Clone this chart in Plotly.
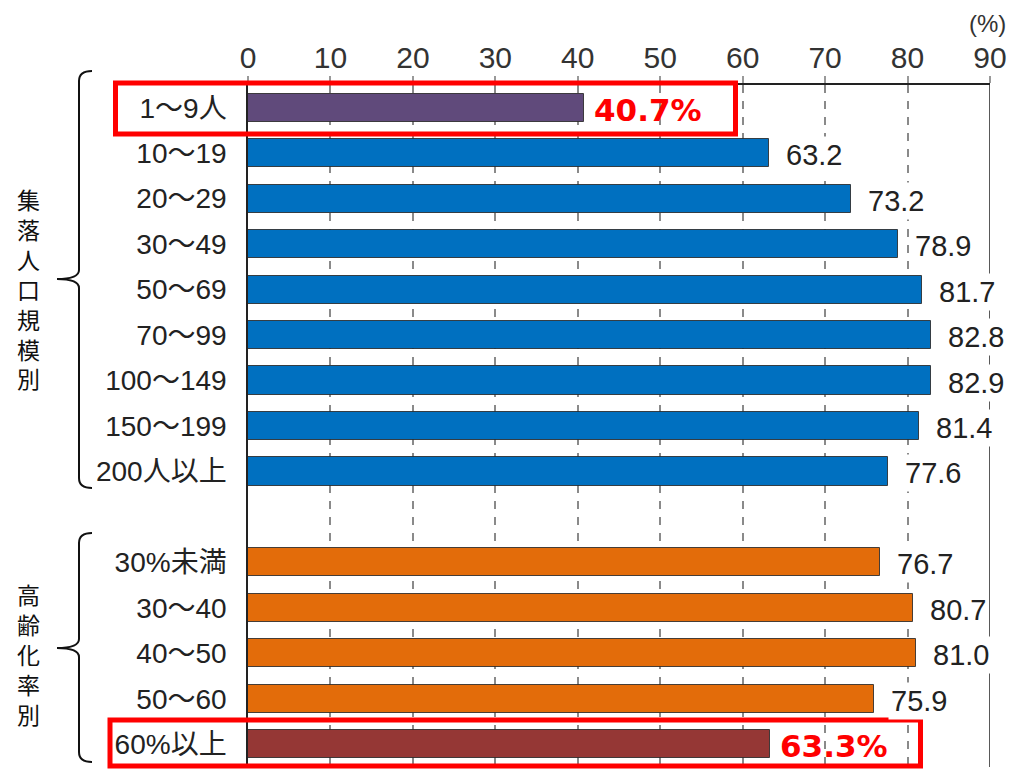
import plotly.graph_objects as go

# ---- data -------------------------------------------------------------
categories = ["1～9人", "10～19", "20～29", "30～49", "50～69", "70～99",
              "100～149", "150～199", "200人以上",
              "30%未満", "30～40", "40～50", "50～60", "60%以上"]
values = [40.7, 63.2, 73.2, 78.9, 81.7, 82.8, 82.9, 81.4, 77.6,
          76.7, 80.7, 81.0, 75.9, 63.3]
group_names = ["集落人口規模別", "高齢化率別"]
group_sizes = [9, 5]
highlighted = [0, 13]
x_ticks = [0, 10, 20, 30, 40, 50, 60, 70, 80, 90]

# ---- styling ----------------------------------------------------------
COL_GROUP = ["#0070c0", "#e36c0a"]
COL_HILITE = {0: "#604a7b", 13: "#953735"}
FONT_LATIN = "Liberation Sans, Arial, Noto Sans CJK JP"
W, H = 1009, 769
L, R, T, B = 248, 990, 85, 767          # plot area in pixels

# one blank slot between the two groups
slots, colors = [], []
idx = 0
for g, n in enumerate(group_sizes):
    for _ in range(n):
        slots.append(idx + g)
        colors.append(COL_HILITE.get(idx, COL_GROUP[g]))
        idx += 1
n_slots = slots[-1] + 1


def px_x(x):
    return (x - L) / (R - L)


def px_y(y):
    return (B - y) / (B - T)


fig = go.Figure()
fig.add_trace(go.Bar(
    x=values, y=slots, orientation="h", width=0.62,
    marker=dict(color=colors, line=dict(color="rgba(40,40,40,0.85)", width=1)),
    hoverinfo="skip", showlegend=False,
))

annotations = []
# value labels
for i, (v, s) in enumerate(zip(values, slots)):
    if i in highlighted:
        annotations.append(dict(
            x=v, y=s, xref="x", yref="y", text=f"{v:.1f}%", showarrow=False,
            xanchor="left", yanchor="middle", xshift=8, yshift=-2,
            font=dict(family="DejaVu Sans, Verdana", size=31, color="#ff0000", weight="bold"),
        ))
    else:
        annotations.append(dict(
            x=v, y=s, xref="x", yref="y", text=f"{v:.1f}", showarrow=False,
            xanchor="left", yanchor="middle", xshift=14, yshift=-2,
            bgcolor="white", borderpad=2,
            font=dict(family=FONT_LATIN, size=29, color="#222"),
        ))

annotations.append(dict(
    x=px_x(987), y=px_y(23), xref="paper", yref="paper", text="(%)",
    showarrow=False, xanchor="center", yanchor="middle",
    font=dict(family=FONT_LATIN, size=24, color="#333"),
))

# vertical group titles, one character per line
title_centres = [288, 654]
for name, yc in zip(group_names, title_centres):
    annotations.append(dict(
        x=px_x(28), y=px_y(yc), xref="paper", yref="paper",
        text="<br>".join(name), showarrow=False, xanchor="center", yanchor="middle",
        align="center",
        font=dict(family="Noto Sans CJK JP", size=23, color="#111"),
    ))

shapes = []
# right frame line
shapes.append(dict(type="line", xref="x", yref="paper", x0=90, x1=90, y0=0, y1=1,
                   line=dict(color="#222", width=1.5), layer="below"))


def brace(top, mid, bot, xv=79, xl=57, xr=92):
    pts = [
        f"M {px_x(xr)},{px_y(top)}",
        f"Q {px_x(xv)},{px_y(top)} {px_x(xv)},{px_y(top + 10)}",
        f"L {px_x(xv)},{px_y(mid - 9)}",
        f"Q {px_x(xv)},{px_y(mid)} {px_x(xl)},{px_y(mid)}",
        f"Q {px_x(xv)},{px_y(mid)} {px_x(xv)},{px_y(mid + 9)}",
        f"L {px_x(xv)},{px_y(bot - 10)}",
        f"Q {px_x(xv)},{px_y(bot)} {px_x(xr)},{px_y(bot)}",
    ]
    return dict(type="path", xref="paper", yref="paper", path=" ".join(pts),
                line=dict(color="#111", width=2))


shapes.append(brace(71, 279, 488))
shapes.append(brace(533, 648, 762))

# red highlight boxes
for (x0, y0, x1, y1) in [(115.5, 83, 735.5, 134), (110, 720, 920.5, 766)]:
    shapes.append(dict(type="rect", xref="paper", yref="paper",
                       x0=px_x(x0), x1=px_x(x1), y0=px_y(y0), y1=px_y(y1),
                       line=dict(color="#ff0000", width=5)))

fig.update_layout(
    width=W, height=H,
    margin=dict(l=L, r=W - R, t=T, b=H - B, pad=0),
    paper_bgcolor="white", plot_bgcolor="white",
    bargap=0, showlegend=False,
    annotations=annotations, shapes=shapes,
    xaxis=dict(
        side="top", range=[0, 90], tickvals=x_ticks, ticktext=[str(t) for t in x_ticks],
        tickfont=dict(family=FONT_LATIN, size=30, color="#333"),
        ticks="outside", ticklen=7, tickcolor="#999", tickwidth=1.5,
        showgrid=True, gridcolor="#8a8a8a", gridwidth=1.5, griddash="8px,8px",
        showline=True, linecolor="#222", linewidth=1.5, zeroline=False,
        ticklabelstandoff=-4, fixedrange=True,
    ),
    yaxis=dict(
        range=[n_slots - 0.5, -0.5], tickvals=slots, ticktext=categories,
        tickfont=dict(family=FONT_LATIN, size=28, color="#222"),
        ticks="", showgrid=False, zeroline=False,
        showline=True, linecolor="#222", linewidth=1.5,
        ticklabelstandoff=14, fixedrange=True,
    ),
)

fig.write_html("out.html")
